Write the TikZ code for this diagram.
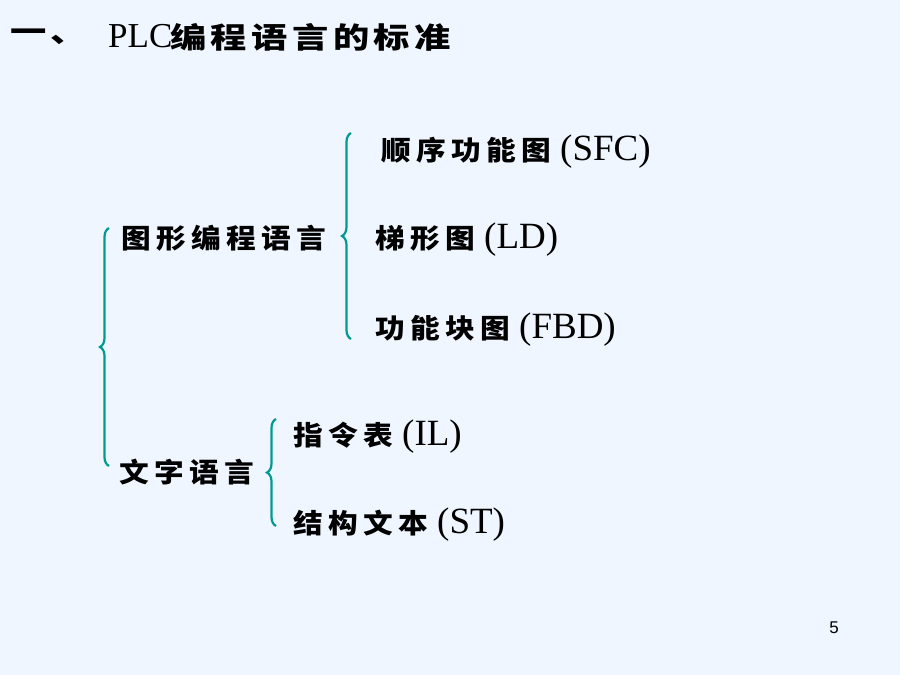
\documentclass[tikz,border=0pt]{standalone}
\usepackage{fontspec}
\usepackage{tikz}
\usetikzlibrary{positioning, decorations.pathreplacing}
\setmainfont{Liberation Serif}
\setsansfont{Liberation Sans}
\newfontfamily\cjk{Noto Sans CJK SC}[FakeStretch=1.1]
\newfontfamily\cjktitle{Noto Sans CJK SC}[FakeStretch=1.25]
\definecolor{bgblue}{RGB}{239,246,255}
\definecolor{braceteal}{RGB}{0,153,148}
\makeatletter
\newcommand{\spread}[2]{\@tfor\ch:=#2\do{\ch\kern#1}}
\makeatother
\newcommand{\zh}[1]{{\cjk\bfseries\fontsize{27}{30}\selectfont\spread{5.3pt}{#1}}}
\newcommand{\zhtitle}[1]{{\cjktitle\bfseries\fontsize{29}{32}\selectfont\spread{4.5pt}{#1}}}
\newcommand{\en}[1]{\hspace{4pt}{\fontsize{37}{40}\selectfont #1}}

\begin{document}
\begin{tikzpicture}[x=1pt, y=-1pt,
        item/.style={anchor=west, inner sep=0pt},
        brc/.style={draw=braceteal, line width=2.2pt, decorate,
            decoration={brace, amplitude=9pt, aspect=0.5}}]
        \fill[bgblue] (0, 0) rectangle (900, 675);
        \useasboundingbox (0, 0) rectangle (900, 675);

        \node[item] (num) at (10, 37) {\zhtitle{一、}};
        \node[item, font=\fontsize{35}{38}\selectfont] (plc) at (108, 36) {PLC};
        \node[item] (title) at (170, 37) {\zhtitle{编程语言的标准}};

        \node[item] (graph) at (121, 238) {\zh{图形编程语言}};
        \node[item] (sfc) at (381, 152) {\zh{顺序功能图}\en{(SFC)}};
        \node[item] (ld) at (375, 240) {\zh{梯形图}\en{(LD)}};
        \node[item] (fbd) at (375, 330) {\zh{功能块图}\en{(FBD)}};

        \node[item] (text) at (119, 472) {\zh{文字语言}};
        \node[item] (il) at (293, 437) {\zh{指令表}\en{(IL)}};
        \node[item] (st) at (293, 525) {\zh{结构文本}\en{(ST)}};

        \node[font=\sffamily\fontsize{17}{18}\selectfont, inner sep=0pt] (page) at (834, 628) {5};

        \coordinate (b1t) at (109, 228);
        \coordinate (b1b) at (109, 466);
        \coordinate (b2t) at (351, 133);
        \coordinate (b2b) at (351, 339);
        \coordinate (b3t) at (276, 419);
        \coordinate (b3b) at (276, 526);

        \draw[brc] (b1b) -- (b1t);
        \draw[brc] (b2b) -- (b2t);
        \draw[brc] (b3b) -- (b3t);
    \end{tikzpicture}
\end{document}
